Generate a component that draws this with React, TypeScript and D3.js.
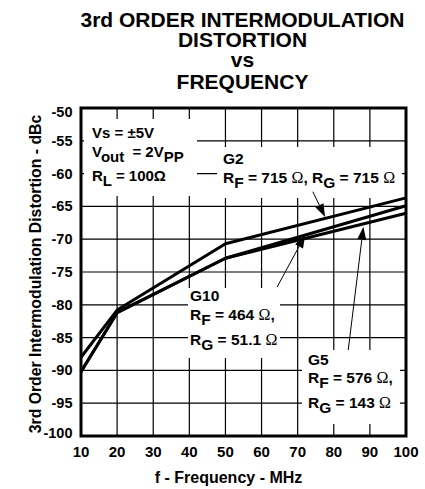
import React from "react";
import * as d3 from "d3";

const freqs = [10, 20, 50, 100];
const g2Values = [-88, -80.8, -70.7, -63.7];
const g10Values = [-90.2, -81.2, -72.9, -64.9];
const g5Values = [-90.2, -81.2, -72.9, -66.05];
const xTicks = [10, 20, 30, 40, 50, 60, 70, 80, 90, 100];
const yTicks = [-50, -55, -60, -65, -70, -75, -80, -85, -90, -95, -100];
const titleLines = ["3rd ORDER INTERMODULATION", "DISTORTION", "vs", "FREQUENCY"];

// arrows in data coords: [tailFreq, tailDb, tipFreq, tipDb]
const arrows = [
  [74.2, -62.76, 77.6, -66.6],
  [64.3, -77.3, 72.1, -69.36],
  [84.0, -86.9, 88.2, -68.1],
];

const W = 425;
const H = 489;
const L = 81, R = 406, T = 108, B = 436;
const FONT = "'Liberation Sans', Arial, Helvetica, sans-serif";
const SERIF = "'Liberation Serif', 'Times New Roman', serif";

export default function App() {
  const x = d3.scaleLinear().domain([10, 100]).range([L, R]);
  const y = d3.scaleLinear().domain([-50, -100]).range([T, B]);
  const line = d3.line<[number, number]>().x(d => x(d[0])).y(d => y(d[1]));
  const series = [g2Values, g10Values, g5Values];

  const masks = [
    { x: 84, y: 119, w: 113, h: 77 },
    { x: 217, y: 147, w: 185, h: 51 },
    { x: 188, y: 288, w: 92, h: 70 },
    { x: 302, y: 350, w: 98, h: 74 },
  ];

  const arrowEls = arrows.map((a, i) => {
    const x1 = x(a[0]), y1 = y(a[1]), x2 = x(a[2]), y2 = y(a[3]);
    const ang = Math.atan2(y2 - y1, x2 - x1);
    const len = 13, hw = 4.5;
    const bx = x2 - len * Math.cos(ang), by = y2 - len * Math.sin(ang);
    const px = -Math.sin(ang) * hw, py = Math.cos(ang) * hw;
    return (
      <g key={i}>
        <line x1={x1} y1={y1} x2={bx} y2={by} stroke="#000" strokeWidth={1} />
        <path d={`M${x2},${y2}L${bx + px},${by + py}L${bx - px},${by - py}Z`} fill="#000" />
      </g>
    );
  });

  const sub = (t: string) => <tspan dy={5}>{t}</tspan>;
  const omega = (
    <tspan fontWeight="normal" fontFamily={SERIF} fontSize={16}>Ω</tspan>
  );

  return (
    <svg width={W} height={H} style={{ position: "absolute", left: 0, top: 0, background: "#fff" }} fontFamily={FONT}>
      <rect width={W} height={H} fill="#fff" />
      {titleLines.map((t, i) => (
        <text key={t} x={242.5} y={[26.7, 46.7, 66.5, 88.5][i]} textAnchor="middle" fontWeight="bold" fontSize={21}>{t}</text>
      ))}
      {/* grid */}
      {xTicks.slice(1, -1).map(v => (
        <line key={"gx" + v} x1={x(v)} x2={x(v)} y1={T} y2={B} stroke="#000" strokeWidth={1.2} />
      ))}
      {yTicks.slice(1, -1).map(v => (
        <line key={"gy" + v} x1={L} x2={R} y1={y(v)} y2={y(v)} stroke="#000" strokeWidth={1.2} />
      ))}
      {masks.map((m, i) => (
        <rect key={"m" + i} x={m.x} y={m.y} width={m.w} height={m.h} fill="#fff" />
      ))}
      {/* curves */}
      {series.map((s, i) => (
        <path key={"s" + i} d={line(freqs.map((f, j) => [f, s[j]]) as [number, number][]) || ""} fill="none" stroke="#000" strokeWidth={3} strokeLinejoin="round" />
      ))}
      {arrowEls}
      {/* frame */}
      <rect x={L} y={T} width={R - L} height={B - T} fill="none" stroke="#000" strokeWidth={3} />
      {/* tick labels */}
      {yTicks.map((v, i) => (
        <text key={"yl" + v} x={72.5} y={y(v) + (i === 0 ? 3.5 : i === yTicks.length - 1 ? -3 : 0)} dy="0.35em" textAnchor="end" fontWeight="bold" fontSize={14.5}>{v}</text>
      ))}
      {xTicks.map(v => (
        <text key={"xl" + v} x={x(v)} y={457} textAnchor="middle" fontWeight="bold" fontSize={15}>{v}</text>
      ))}
      <text x={228.5} y={483} textAnchor="middle" fontWeight="bold" fontSize={16}>f - Frequency - MHz</text>
      <text transform={`translate(41,274) rotate(-90)`} textAnchor="middle" fontWeight="bold" fontSize={15.8}>3rd Order Intermodulation Distortion - dBc</text>
      {/* annotations */}
      <g fontWeight="bold" fontSize={15}>
        <text x={92} y={137.5}>Vs = ±5V</text>
        <text x={92} y={156.5}>V{sub("out")}<tspan dy={-5} dx={4}> = 2V</tspan>{sub("PP")}</text>
        <text x={92} y={181}>R{sub("L")}<tspan dy={-5}> = 100Ω</tspan></text>
      </g>
      <g fontWeight="bold" fontSize={15.5}>
        <text x={223} y={164}>G2</text>
        <text x={223} y={183}>R{sub("F")}<tspan dy={-5}> = 715 </tspan>{omega}<tspan>, R</tspan>{sub("G")}<tspan dy={-5}> = 715 </tspan>{omega}</text>

        <text x={190} y={301}>G10</text>
        <text x={190} y={320}>R{sub("F")}<tspan dy={-5}> = 464 </tspan>{omega}<tspan>,</tspan></text>
        <text x={190} y={345}>R{sub("G")}<tspan dy={-5}> = 51.1 </tspan>{omega}</text>

        <text x={308} y={365}>G5</text>
        <text x={308} y={383}>R{sub("F")}<tspan dy={-5}> = 576 </tspan>{omega}<tspan>,</tspan></text>
        <text x={308} y={408}>R{sub("G")}<tspan dy={-5}> = 143 </tspan>{omega}</text>
      </g>
    </svg>
  );
}
